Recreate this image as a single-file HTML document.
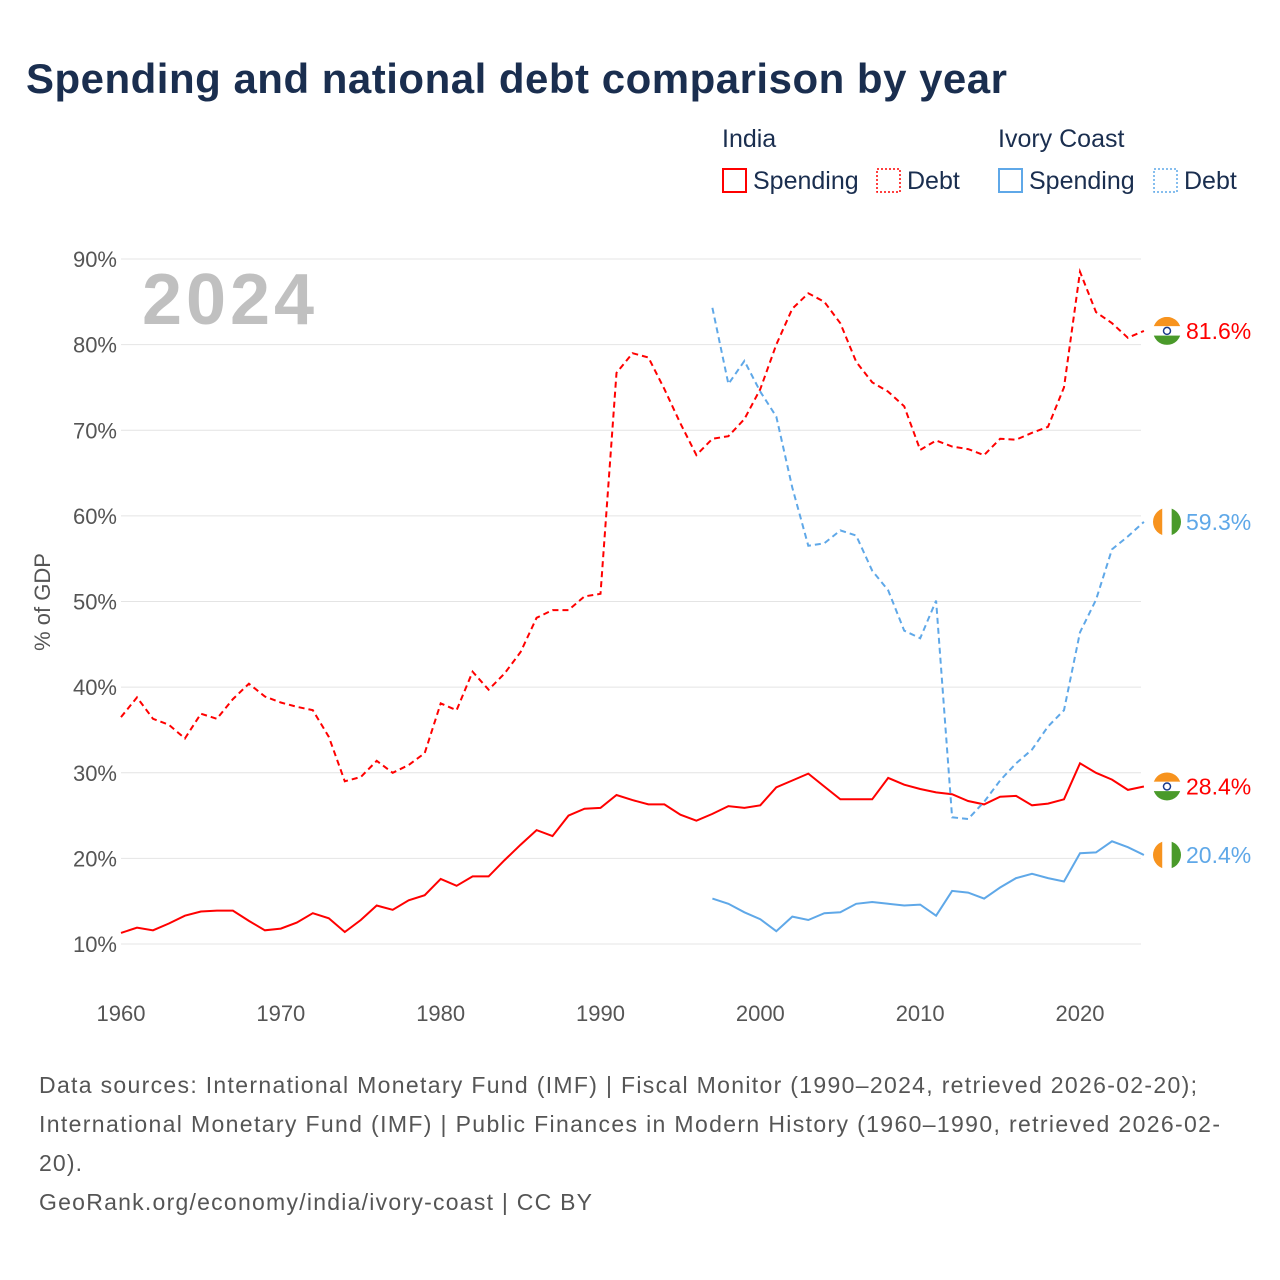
<!DOCTYPE html>
<html><head><meta charset="utf-8">
<style>
body{margin:0;background:#fff;font-family:"Liberation Sans",sans-serif;}
#wrap{position:relative;width:1280px;height:1280px;overflow:hidden;}
</style></head>
<body>
<div id="wrap">
<svg id="chart" width="1280" height="1280" xmlns="http://www.w3.org/2000/svg">
<text x="26" y="93" font-size="42" font-weight="bold" fill="#1a2e4f" textLength="981" lengthAdjust="spacing">Spending and national debt comparison by year</text>
<g font-size="25" fill="#1a2e4f">
<text x="722" y="147">India</text>
<text x="998" y="147">Ivory Coast</text>
<g><rect x="723" y="169" width="23" height="23" fill="none" stroke="#f00" stroke-width="2"/><text x="753" y="189">Spending</text></g>
<g><rect x="877" y="169" width="23" height="23" fill="none" stroke="#f00" stroke-width="1.5" stroke-dasharray="2,2"/><text x="907" y="189">Debt</text></g>
<g><rect x="999" y="169" width="23" height="23" fill="none" stroke="#5fa8e8" stroke-width="2"/><text x="1029" y="189">Spending</text></g>
<g><rect x="1154" y="169" width="23" height="23" fill="none" stroke="#5fa8e8" stroke-width="1.5" stroke-dasharray="2,2"/><text x="1184" y="189">Debt</text></g>
</g>
<text x="142" y="324" font-size="72" font-weight="bold" fill="#c0c0c0" textLength="172" lengthAdjust="spacing">2024</text>
<text transform="translate(50,602) rotate(-90)" text-anchor="middle" font-size="22" fill="#555">% of GDP</text>
<g id="grid"></g><g id="series"></g><g id="ends"></g>
<g font-size="23" fill="#555">
<text x="39" y="1093" textLength="1158" lengthAdjust="spacing">Data sources: International Monetary Fund (IMF) | Fiscal Monitor (1990–2024, retrieved 2026-02-20);</text>
<text x="39" y="1132" textLength="1181" lengthAdjust="spacing">International Monetary Fund (IMF) | Public Finances in Modern History (1960–1990, retrieved 2026-02-</text>
<text x="39" y="1171" textLength="43" lengthAdjust="spacing">20).</text>
<text x="39" y="1210" textLength="553" lengthAdjust="spacing">GeoRank.org/economy/india/ivory-coast | CC BY</text>
</g>
</svg>
</div>
<script>
const yTicks=[10,20,30,40,50,60,70,80,90];
const xTicks=[1960,1970,1980,1990,2000,2010,2020];
const indiaStart=1960, ivoryStart=1997;
const indiaDebt=[36.5,38.8,36.3,35.6,34.0,36.9,36.3,38.6,40.4,38.9,38.2,37.7,37.3,34.2,29.0,29.5,31.4,30.0,30.9,32.3,38.1,37.3,41.8,39.7,41.6,44.1,48.1,49.0,49.0,50.6,50.9,76.7,79.0,78.5,74.8,70.8,67.1,69.0,69.3,71.3,74.8,80.0,84.2,86.0,85.0,82.5,78.0,75.6,74.5,72.8,67.7,68.8,68.1,67.8,67.1,69.0,68.9,69.7,70.4,75.0,88.5,83.8,82.5,80.8,81.6];
const indiaSpending=[11.3,11.9,11.6,12.4,13.3,13.8,13.9,13.9,12.7,11.6,11.8,12.5,13.6,13.0,11.4,12.8,14.5,14.0,15.1,15.7,17.6,16.8,17.9,17.9,19.8,21.6,23.3,22.6,25.0,25.8,25.9,27.4,26.8,26.3,26.3,25.1,24.4,25.2,26.1,25.9,26.2,28.3,29.1,29.9,28.4,26.9,26.9,26.9,29.4,28.6,28.1,27.7,27.5,26.7,26.3,27.2,27.3,26.2,26.4,26.9,31.1,30.0,29.2,28.0,28.4];
const ivoryDebt=[84.3,75.4,78.1,74.5,71.6,63.3,56.5,56.8,58.3,57.7,53.6,51.3,46.6,45.7,50.1,24.8,24.6,26.6,29.1,31.1,32.7,35.4,37.3,46.4,50.2,56.1,57.6,59.3];
const ivorySpending=[15.3,14.7,13.7,12.9,11.5,13.2,12.8,13.6,13.7,14.7,14.9,14.7,14.5,14.6,13.3,16.2,16.0,15.3,16.6,17.7,18.2,17.7,17.3,20.6,20.7,22.0,21.3,20.4];

const NS="http://www.w3.org/2000/svg";
const X=y=>121+(y-1960)*(959/60);
const Y=v=>944-(v-10)*8.5625;
function mk(tag,attrs,parent){const e=document.createElementNS(NS,tag);for(const k in attrs)e.setAttribute(k,attrs[k]);parent.appendChild(e);return e;}
const grid=document.getElementById('grid');
yTicks.forEach(t=>{
  const l=mk('line',{x1:121,x2:1141,y1:Y(t),y2:Y(t),stroke:'#e4e4e4','stroke-width':1},grid);
  
  
  const tx=mk('text',{x:117,y:Y(t)+8,'text-anchor':'end','font-size':22,fill:'#555'},grid);
  tx.textContent=t+'%';
  
  
});
xTicks.forEach(t=>{
  const tx=mk('text',{x:X(t),y:1021,'text-anchor':'middle','font-size':22,fill:'#555'},grid);
  tx.textContent=t;
  
  
});
const ser=document.getElementById('series');
function line(arr,start,color,dash,name){
  const d=arr.map((v,i)=>(i?'L':'M')+X(start+i).toFixed(1)+','+Y(v).toFixed(1)).join('');
  const p=mk('path',{d:d,fill:'none',stroke:color,'stroke-width':2,'stroke-dasharray':dash},ser);
  
  
}
line(indiaDebt,indiaStart,'#f00','6,4','india-debt-line');
line(indiaSpending,indiaStart,'#f00','none','india-spending-line');
line(ivoryDebt,ivoryStart,'#5fa8e8','6,4','ivory-debt-line');
line(ivorySpending,ivoryStart,'#5fa8e8','none','ivory-spending-line');

const ends=document.getElementById('ends');
function flag(v,country,color,name){
  const cy=Y(v), cx=1167, r=14;
  const g=mk('g',{},ends);
  
  
  const cid='c'+name;
  const cp=mk('clipPath',{id:cid},g); mk('circle',{cx:cx,cy:cy,r:r},cp);
  const gg=mk('g',{'clip-path':'url(#'+cid+')'},g);
  if(country==='india'){
    mk('rect',{x:cx-r,y:cy-r,width:2*r,height:2*r/3,fill:'#f7931e'},gg);
    mk('rect',{x:cx-r,y:cy-r/3,width:2*r,height:2*r/3,fill:'#fff'},gg);
    mk('rect',{x:cx-r,y:cy+r/3,width:2*r,height:2*r/3,fill:'#4a9a2a'},gg);
    mk('circle',{cx:cx,cy:cy,r:3.5,fill:'none',stroke:'#1a3a8a','stroke-width':1.5},gg);
  } else {
    mk('rect',{x:cx-r,y:cy-r,width:2*r/3,height:2*r,fill:'#f7931e'},gg);
    mk('rect',{x:cx-r/3,y:cy-r,width:2*r/3,height:2*r,fill:'#fff'},gg);
    mk('rect',{x:cx+r/3,y:cy-r,width:2*r/3,height:2*r,fill:'#4a9a2a'},gg);
  }
  const t=mk('text',{x:1186,y:cy+8,'font-size':23,fill:color},ends);
  t.textContent=v.toFixed(1)+'%';
  
  
}
flag(indiaDebt[indiaDebt.length-1],'india','#f00','india-debt');
flag(indiaSpending[indiaSpending.length-1],'india','#f00','india-spending');
flag(ivoryDebt[ivoryDebt.length-1],'ivory','#5fa8e8','ivory-debt');
flag(ivorySpending[ivorySpending.length-1],'ivory','#5fa8e8','ivory-spending');
</script>
</body></html>
